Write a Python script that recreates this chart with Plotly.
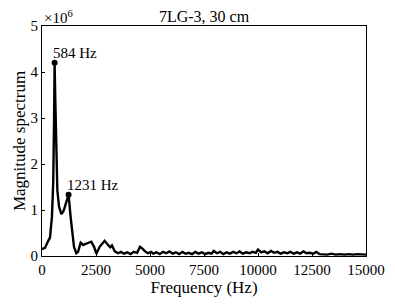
import plotly.graph_objects as go

# frequency (Hz) and magnitude (x1e6)
freq = [0, 140, 290, 370, 460, 520, 560, 584, 620, 664, 710, 790, 865, 895, 960,
        1020, 1130, 1231, 1325, 1400, 1480, 1590, 1670, 1790, 1900, 2050, 2280,
        2410, 2515, 2670, 2800, 2900, 3060, 3160, 3240, 3370, 3520, 3650, 3800,
        3950, 4100, 4250, 4400, 4540, 4650, 4770, 4900, 5050, 5150, 5300, 5450,
        5600, 5750, 5900, 6050, 6200, 6350, 6500, 6650, 6800, 6950, 7100, 7250,
        7400, 7550, 7700, 7850, 7950, 8100, 8250, 8400, 8550, 8700, 8850, 9000,
        9150, 9300, 9450, 9600, 9750, 9900, 10000, 10150, 10300, 10450, 10600,
        10750, 10900, 11050, 11200, 11350, 11500, 11650, 11800, 11950, 12100,
        12250, 12400, 12550, 12700, 12850, 13000, 13200, 13400, 13600, 13800,
        14000, 14200, 14400, 14600, 14800, 15000]
mag = [0.15, 0.18, 0.33, 0.4, 0.85, 1.6, 3.0, 4.2, 3.3, 1.9, 1.43, 1.07, 0.93, 0.91, 0.95,
       1.01, 1.18, 1.33, 0.85, 0.49, 0.2, 0.06, 0.09, 0.29, 0.24, 0.27, 0.31,
       0.2, 0.05, 0.2, 0.27, 0.33, 0.24, 0.19, 0.23, 0.1, 0.06, 0.09, 0.05,
       0.08, 0.04, 0.09, 0.07, 0.2, 0.16, 0.1, 0.06, 0.09, 0.05, 0.08, 0.04,
       0.09, 0.06, 0.1, 0.05, 0.08, 0.04, 0.09, 0.05, 0.07, 0.04, 0.09, 0.05,
       0.08, 0.04, 0.07, 0.05, 0.11, 0.06, 0.09, 0.04, 0.08, 0.05, 0.09, 0.06,
       0.1, 0.05, 0.08, 0.06, 0.09, 0.07, 0.14, 0.08, 0.1, 0.06, 0.11, 0.07,
       0.09, 0.05, 0.08, 0.06, 0.09, 0.05, 0.08, 0.05, 0.1, 0.06, 0.07,
       0.05, 0.09, 0.04, 0.04, 0.03, 0.05, 0.03, 0.04, 0.03, 0.04, 0.03, 0.04,
       0.03, 0.03, 0.03]

peak_freq = [584, 1231]
peak_mag = [4.2, 1.33]
peak_labels = ['584 Hz', '1231 Hz']

x_ticks = [0, 2500, 5000, 7500, 10000, 12500, 15000]
y_ticks = [0, 1, 2, 3, 4, 5]

font = 'Liberation Serif'

fig = go.Figure()

fig.add_trace(go.Scatter(
    x=freq, y=mag, mode='lines',
    line=dict(color='black', width=2.4),
    showlegend=False
))

fig.add_trace(go.Scatter(
    x=peak_freq, y=peak_mag, mode='markers',
    marker=dict(color='black', size=6),
    showlegend=False
))

axis_style = dict(
    showline=True, linecolor='black', linewidth=1, mirror=True, automargin=False,
    showgrid=False, zeroline=False, ticks='inside', ticklen=3,
    tickcolor='black', tickfont=dict(family=font, size=15, color='black')
)

annotations = [dict(text='×10<sup>6</sup>', xref='paper', yref='paper', x=0, y=1,
                    xanchor='left', yanchor='bottom', showarrow=False, yshift=-2,
                    font=dict(family=font, size=15, color='black'))]
for f, m, lab in zip(peak_freq, peak_mag, peak_labels):
    annotations.append(dict(text=lab, x=f, y=m, xanchor='left', yanchor='bottom',
                            showarrow=False, xshift=-4, yshift=0,
                            font=dict(family=font, size=15, color='black')))

# page body adds an 8px offset, so the figure is made 8px smaller
fig.update_layout(
    width=387, height=296,
    margin=dict(l=34, r=29, t=18, b=48),
    plot_bgcolor='white', paper_bgcolor='white',
    title=dict(text='7LG-3, 30 cm', x=0.5, xref='paper', xanchor='center', y=0.971,
               yanchor='middle', font=dict(family=font, size=16, color='black')),
    xaxis=dict(range=[0, 15000], tickvals=x_ticks, ticktext=[str(v) for v in x_ticks],
               title=dict(text='Frequency (Hz)', standoff=0,
                          font=dict(family=font, size=17, color='black')),
               **axis_style),
    yaxis=dict(range=[0, 5], tickvals=y_ticks, ticktext=[str(v) for v in y_ticks],
               title=dict(text='Magnitude spectrum', standoff=0,
                          font=dict(family=font, size=17, color='black')),
               **axis_style),
    annotations=annotations
)

fig.write_html('out.html')
